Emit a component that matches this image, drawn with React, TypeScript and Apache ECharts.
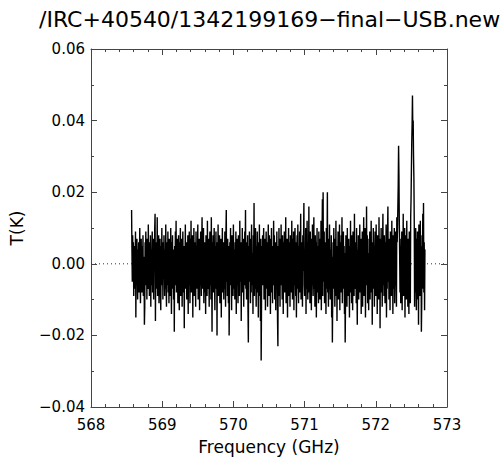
import React, { useEffect, useRef } from "react";
import * as echarts from "echarts";

const titleText = "/IRC+40540/1342199169\u2212final\u2212USB.new";
const xAxisName = "Frequency (GHz)";
const yAxisName = "T(K)";
const xRange = [568, 573];
const yRange = [-0.04, 0.06];
const freqStart = 568.57; // GHz, first channel
const channelWidth = 0.005; // GHz per channel
const zeroLine = [
  [568, 0],
  [573, 0],
];

// antenna temperature (K) per channel
const temperature = [
  .015,.004,-.005,.008,-.003,.006,-.009,.002,-.007,.005,
  -.002,.009,-.015,.003,-.006,.007,-.001,-.010,.004,-.004,
  .006,-.008,.001,.010,-.005,-.011,.003,.007,-.003,-.008,
  .005,-.002,.008,-.009,-.004,.002,-.017,-.012,.006,-.001,
  .009,-.006,.003,-.010,.007,-.003,-.007,.011,-.005,.001,
  -.009,.006,-.002,.008,-.012,.004,-.006,.002,.009,-.008,
  -.003,.007,-.010,.005,-.001,.010,.014,-.016,.003,-.007,
  .006,-.004,.013,-.009,.001,-.005,.008,-.011,.004,-.002,
  .007,-.008,-.013,.005,-.003,.010,-.006,.002,-.010,.006,
  -.004,.008,-.001,-.009,.004,-.007,.011,-.003,-.012,.006,
  .001,-.006,.009,-.008,.003,-.011,.007,-.002,.005,-.009,
  .010,-.004,-.014,.006,-.001,.008,-.007,.002,-.010,.004,
  -.019,.005,-.006,.009,-.003,.012,-.008,.001,-.005,.007,
  -.011,.003,.008,-.006,-.013,.006,-.002,.010,-.009,.004,
  -.001,.007,-.012,.002,.009,-.005,-.008,.005,-.018,.003,
  -.004,.011,-.007,.001,.006,-.010,.004,-.003,.008,-.014,
  .005,-.006,.009,-.001,-.011,.007,-.004,.012,-.008,.002,
  -.005,.008,-.015,.004,-.002,.010,-.009,.003,-.006,.006,
  -.012,.009,-.003,.005,-.007,.001,.011,-.010,.004,-.004,
  .007,-.013,.002,-.006,.009,-.002,-.009,.006,.013,-.007,
  .003,-.005,.010,-.011,.001,.006,-.008,.004,-.014,.008,
  -.002,.005,-.009,.012,-.004,-.007,.007,-.001,-.012,.003,
  .009,-.006,.002,-.010,.013,-.003,-.019,.006,-.005,.008,
  -.008,.001,.010,-.004,-.013,.005,-.002,.009,-.007,.003,
  -.020,.006,-.003,.011,-.009,.002,-.006,.008,-.011,.004,
  -.001,.007,-.015,.005,-.004,.010,-.008,.001,.006,-.010,
  .003,-.007,.009,-.002,-.012,.008,.015,-.005,.004,-.009,
  .007,-.003,-.011,.005,-.020,-.008,.006,-.001,.010,-.006,
  .002,-.013,.008,-.004,.005,-.009,.011,-.002,-.007,.004,
  -.010,.006,-.003,.009,-.014,.001,.007,-.006,.003,-.011,
  .008,-.002,.005,-.009,.012,-.005,-.001,.006,-.016,.004,
  -.004,.010,-.008,.002,.007,-.012,.003,-.006,.009,-.003,
  .015,-.007,.001,-.010,.006,-.002,.008,-.013,-.022,.005,
  -.005,.009,-.001,.004,-.011,.007,-.008,.011,-.003,-.006,
  .003,-.014,.008,-.004,.017,-.009,.002,-.007,.010,-.001,
  -.012,.005,-.003,.009,-.008,.004,-.015,.006,-.002,.011,
  -.009,.001,-.016,.007,-.027,-.011,.005,-.004,.008,-.006,
  .002,.010,-.010,.004,-.003,.007,-.013,.001,.009,-.007,
  -.001,.006,-.012,.003,.011,-.005,-.009,.008,-.004,.002,
  -.014,.007,-.002,.010,-.008,.005,-.011,.003,-.006,.012,
  -.004,.008,-.010,.001,.006,-.013,.004,-.007,.009,-.002,
  -.016,-.023,.005,-.005,.010,-.009,.002,-.012,.007,-.003,
  .011,-.006,.003,-.010,.008,-.001,-.014,.006,-.004,.009,
  -.008,.004,-.002,.013,-.011,.002,-.007,.007,-.015,.005,
  -.003,.010,-.009,.001,.006,-.012,.008,-.005,.003,-.008,
  .012,-.004,-.010,.007,-.002,.009,-.013,.004,-.006,.010,
  -.001,-.009,.006,-.015,.003,.008,-.007,.011,-.004,-.011,
  .005,-.003,.009,-.008,.002,.014,-.010,.006,-.005,.001,
  -.012,.008,-.002,.007,.017,-.006,-.009,.004,-.003,.010,
  -.014,.005,-.007,.012,-.001,-.010,.006,-.004,.016,-.008,
  .003,-.011,.009,-.002,.005,-.013,.007,-.006,.011,-.003,
  -.009,.004,.013,-.007,.001,-.012,.008,-.004,.006,-.015,
  .002,.010,-.008,.005,-.003,-.011,.009,-.001,.007,-.010,
  .004,-.006,.012,-.013,.003,.008,.018,-.009,.020,-.005,
  -.002,.009,-.011,.006,-.004,.001,-.014,.010,-.007,.005,
  .020,-.008,.003,-.012,.007,-.001,.011,-.006,-.010,.004,
  -.003,.008,-.015,.002,-.022,-.009,.006,-.005,.010,-.007,
  .001,-.012,.007,-.003,.012,-.009,.004,-.016,.005,-.002,
  .009,-.010,.003,-.006,.011,-.013,.006,-.001,-.008,.008,
  -.004,.013,-.011,.002,-.007,.009,-.005,.005,-.014,.003,
  -.022,-.010,.008,-.003,.006,-.012,.010,-.004,.001,-.009,
  .007,-.002,-.015,.005,-.006,.012,-.008,.003,-.011,.008,
  -.001,-.013,.009,-.005,.004,-.009,.014,-.003,-.007,.006,
  .002,-.011,.010,-.006,-.017,.004,-.002,.008,-.010,.005,
  -.004,.011,-.008,.001,.007,-.014,.003,-.005,.009,-.012,
  .006,-.002,.013,-.009,.004,-.007,.010,-.015,.002,-.004,
  .016,-.006,.008,-.011,.003,-.001,-.013,.007,-.005,.009,
  -.010,.004,-.003,.012,-.008,.001,-.017,.006,-.002,.010,
  -.007,.005,-.012,.003,.009,-.004,-.009,.011,-.006,.002,
  -.014,.008,-.001,.006,-.010,.013,-.005,.004,-.018,.007,
  -.003,.010,-.008,.002,-.012,.005,.014,-.006,.001,-.009,
  .008,-.004,-.011,.006,-.002,.011,-.015,.003,-.007,.009,
  .016,-.005,.004,-.010,.007,-.001,-.013,.009,-.006,.003,
  -.009,.012,-.003,.005,-.014,.008,-.007,.002,.010,-.011,
  .004,-.006,.009,-.002,-.012,.013,.006,.010,.016,.022,
  .033,.025,.012,.003,-.008,.005,-.011,.007,-.003,.009,
  -.013,.004,-.006,.014,-.009,.001,-.004,.010,-.015,.006,
  -.002,.008,-.010,.012,-.005,.003,-.012,.007,-.001,-.014,
  .009,-.006,.004,-.011,.013,.018,.026,.034,.039,.047,
  .037,.040,.030,.024,.012,-.012,.006,-.008,.010,-.004,
  -.013,.007,-.002,.009,-.010,.004,-.017,.011,-.005,.002,
  -.009,.012,-.006,.005,-.019,-.011,.008,-.003,.014,-.007,
  .017,-.008,.006,-.013,.004,
];

const FONT = "DejaVu Sans";
const AXIS_COLOR = "#444";

function fmtY(v: number): string {
  if (Math.abs(v) < 1e-9) return "0.00";
  const s = Math.abs(v).toFixed(2);
  return v < 0 ? "\u2212" + s : s;
}

export default function App() {
  const ref = useRef<HTMLDivElement>(null);
  useEffect(() => {
    if (!ref.current) return;
    const chart = echarts.init(ref.current, null, { renderer: "svg" });
    const spectrum = temperature.map((t, i) => [
      +(freqStart + i * channelWidth).toFixed(3),
      t,
    ]);
    const axisCommon = {
      type: "value" as const,
      axisLine: { show: true, onZero: false, lineStyle: { color: AXIS_COLOR, width: 1 } },
      axisTick: { show: true, inside: true, length: 6, lineStyle: { color: AXIS_COLOR } },
      minorTick: { show: true, length: 3, lineStyle: { color: AXIS_COLOR } },
      splitLine: { show: false },
      minorSplitLine: { show: false },
    };
    chart.setOption({
      animation: false,
      backgroundColor: "#fff",
      title: {
        text: titleText,
        left: 34,
        top: 3,
        textStyle: { fontFamily: FONT, fontSize: 22, fontWeight: "normal", color: "#000" },
      },
      grid: { left: 88, right: 53, top: 49, bottom: 52, containLabel: false },
      xAxis: [
        {
          ...axisCommon,
          position: "bottom",
          min: xRange[0],
          max: xRange[1],
          interval: 1,
          minorTick: { ...axisCommon.minorTick, splitNumber: 5 },
          axisLabel: { show: true, fontFamily: FONT, fontSize: 15, color: "#000", margin: 10 },
          name: xAxisName,
          nameLocation: "middle",
          nameGap: 31,
          nameTextStyle: { fontFamily: FONT, fontSize: 17, color: "#000" },
        },
        {
          ...axisCommon,
          position: "top",
          min: xRange[0],
          max: xRange[1],
          interval: 1,
          minorTick: { ...axisCommon.minorTick, splitNumber: 5 },
          axisLabel: { show: false },
        },
      ],
      yAxis: [
        {
          ...axisCommon,
          position: "left",
          min: yRange[0],
          max: yRange[1],
          interval: 0.02,
          minorTick: { ...axisCommon.minorTick, splitNumber: 2 },
          axisLabel: {
            show: true,
            fontFamily: FONT,
            fontSize: 15,
            color: "#000",
            margin: 6,
            formatter: fmtY,
          },
          name: yAxisName,
          nameLocation: "middle",
          nameGap: 66,
          nameTextStyle: { fontFamily: FONT, fontSize: 17, color: "#000" },
        },
        {
          ...axisCommon,
          position: "right",
          min: yRange[0],
          max: yRange[1],
          interval: 0.02,
          minorTick: { ...axisCommon.minorTick, splitNumber: 2 },
          axisLabel: { show: false },
        },
      ],
      series: [
        {
          type: "line",
          data: zeroLine,
          xAxisIndex: 0,
          yAxisIndex: 0,
          showSymbol: false,
          symbol: "none",
          silent: true,
          z: 1,
          lineStyle: { color: "#333", width: 1, type: [1, 3] },
        },
        {
          type: "line",
          data: spectrum,
          xAxisIndex: 0,
          yAxisIndex: 0,
          showSymbol: false,
          symbol: "none",
          z: 2,
          lineStyle: { color: "#000", width: 1.4 },
        },
      ],
    });
    return () => chart.dispose();
  }, []);
  return (
    <div
      ref={ref}
      style={{ position: "absolute", left: 0, top: 0, width: 500, height: 460 }}
    />
  );
}
